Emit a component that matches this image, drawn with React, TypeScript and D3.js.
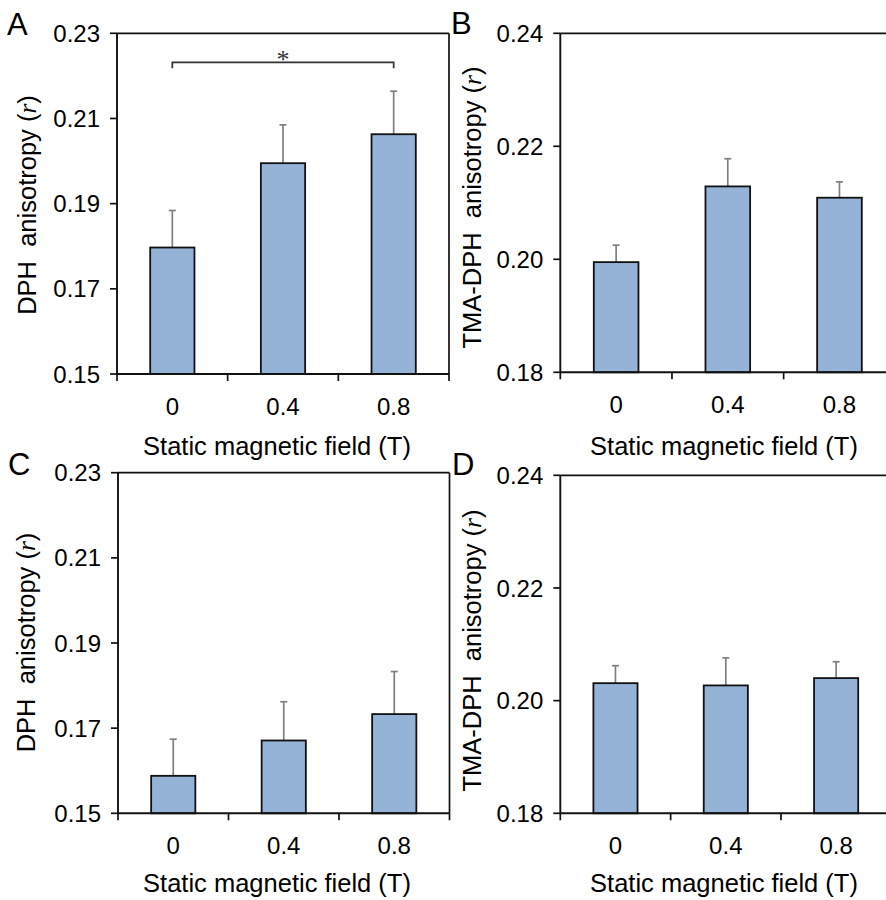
import React from "react";
import * as d3 from "d3";

const categories = ["0", "0.4", "0.8"];

const dphMeansA = [0.1797, 0.1995, 0.2063];
const dphErrA = [0.0087, 0.009, 0.0101];
const tmaMeansB = [0.1995, 0.2129, 0.2109];
const tmaErrB = [0.003, 0.0049, 0.0028];
const dphMeansC = [0.1588, 0.1671, 0.1733];
const dphErrC = [0.0086, 0.0091, 0.01];
const tmaMeansD = [0.2031, 0.2027, 0.204];
const tmaErrD = [0.0031, 0.0049, 0.0029];

const dphTicks = [0.15, 0.17, 0.19, 0.21, 0.23];
const tmaTicks = [0.18, 0.2, 0.22, 0.24];

const xTitle = "Static magnetic field (T)";
const dphTitle = "DPH  anisotropy (";
const tmaTitle = "TMA-DPH  anisotropy (";

const SANS = "'Liberation Sans', Arial, Helvetica, sans-serif";
const SERIF = "'Liberation Serif', 'Times New Roman', serif";

type PanelProps = {
  label: string;
  labelX: number;
  labelY: number;
  left: number;
  top: number;
  bottom: number;
  width: number;
  means: number[];
  errs: number[];
  ticks: number[];
  yTitle: string;
  yTitleX: number;
  yTitleY: number;
  xTitleX: number;
  xTitleY: number;
  showRight: boolean;
  bracket?: { from: number; to: number; y: number };
};

function Panel(p: PanelProps) {
  const right = p.left + p.width;
  const y = d3
    .scaleLinear()
    .domain([p.ticks[0], p.ticks[p.ticks.length - 1]])
    .range([p.bottom, p.top]);
  const x = d3
    .scaleBand<string>()
    .domain(categories)
    .range([p.left, right])
    .paddingInner(0.6)
    .paddingOuter(0.3);
  const step = x.step();
  const boundaries = d3.range(categories.length + 1).map((i) => p.left + i * step);
  const fmt = d3.format(".2f");
  const tickLen = 7;
  const cap = 3.5;
  return (
    <g>
      <text x={p.labelX} y={p.labelY} fontFamily={SANS} fontSize={31} fill="#000">
        {p.label}
      </text>
      {categories.map((c, i) => {
        const x0 = x(c)!;
        const cx = x0 + x.bandwidth() / 2;
        const yTop = y(p.means[i]);
        const yErr = y(p.means[i] + p.errs[i]);
        return (
          <g key={c}>
            <line x1={cx} x2={cx} y1={yTop} y2={yErr} stroke="#7f7f7f" strokeWidth={1.7} />
            <line x1={cx - cap} x2={cx + cap} y1={yErr} y2={yErr} stroke="#7f7f7f" strokeWidth={1.7} />
            <rect
              x={x0}
              y={yTop}
              width={x.bandwidth()}
              height={p.bottom - yTop}
              fill="#95b3d7"
              stroke="#111"
              strokeWidth={1.8}
            />
          </g>
        );
      })}
      <line x1={p.left} x2={right} y1={p.top} y2={p.top} stroke="#111" strokeWidth={1.7} />
      {p.showRight && (
        <line x1={right} x2={right} y1={p.top} y2={p.bottom} stroke="#111" strokeWidth={1.7} />
      )}
      <line x1={p.left} x2={p.left} y1={p.top} y2={p.bottom} stroke="#111" strokeWidth={1.9} />
      <line x1={p.left} x2={right} y1={p.bottom} y2={p.bottom} stroke="#111" strokeWidth={1.9} />
      {p.ticks.map((t) => (
        <g key={t}>
          <line x1={p.left - tickLen} x2={p.left} y1={y(t)} y2={y(t)} stroke="#111" strokeWidth={1.7} />
          <text
            x={p.left - 17}
            y={y(t)}
            dy="0.36em"
            textAnchor="end"
            fontFamily={SANS}
            fontSize={24}
            fill="#000"
          >
            {fmt(t)}
          </text>
        </g>
      ))}
      {boundaries.map((b, i) => (
        <line key={i} x1={b} x2={b} y1={p.bottom} y2={p.bottom + tickLen} stroke="#111" strokeWidth={1.7} />
      ))}
      {categories.map((c) => (
        <text
          key={c}
          x={x(c)! + x.bandwidth() / 2}
          y={p.bottom + 41}
          textAnchor="middle"
          fontFamily={SANS}
          fontSize={24}
          fill="#000"
        >
          {c}
        </text>
      ))}
      <text x={p.xTitleX} y={p.xTitleY} textAnchor="middle" fontFamily={SANS} fontSize={25.5} fill="#000">
        {xTitle}
      </text>
      <text
        transform={`translate(${p.yTitleX},${p.yTitleY}) rotate(-90)`}
        textAnchor="middle"
        fontFamily={SANS}
        fontSize={25.5}
        fill="#000"
        style={{ whiteSpace: "pre" }}
      >
        {p.yTitle}
        <tspan fontFamily={SERIF} fontStyle="italic">
          r
        </tspan>
        )
      </text>
      {p.bracket && (() => {
        const bx1 = x(categories[p.bracket!.from])! + x.bandwidth() / 2;
        const bx2 = x(categories[p.bracket!.to])! + x.bandwidth() / 2;
        const by = p.bracket!.y;
        return (
          <g>
            <path
              d={`M${bx1},${by + 6}V${by}H${bx2}V${by + 6}`}
              fill="none"
              stroke="#333"
              strokeWidth={1.7}
            />
            <text x={(bx1 + bx2) / 2} y={by + 5.5} textAnchor="middle" fontFamily={SERIF} fontSize={26} fill="#333">
              *
            </text>
          </g>
        );
      })()}
    </g>
  );
}

export default function App() {
  return (
    <svg
      width={886}
      height={900}
      style={{ position: "absolute", left: 0, top: 0, display: "block", background: "#fff" }}
    >
      <rect x={0} y={0} width={886} height={900} fill="#fff" />
      <Panel
        label="A"
        labelX={7}
        labelY={35}
        left={117}
        top={33.3}
        bottom={374}
        width={332}
        means={dphMeansA}
        errs={dphErrA}
        ticks={dphTicks}
        yTitle={dphTitle}
        yTitleX={36}
        yTitleY={205}
        xTitleX={277}
        xTitleY={455}
        showRight={true}
        bracket={{ from: 0, to: 2, y: 62.3 }}
      />
      <Panel
        label="B"
        labelX={451}
        labelY={33.5}
        left={560.3}
        top={33.3}
        bottom={372.3}
        width={335}
        means={tmaMeansB}
        errs={tmaErrB}
        ticks={tmaTicks}
        yTitle={tmaTitle}
        yTitleX={481}
        yTitleY={207.5}
        xTitleX={724}
        xTitleY={455}
        showRight={false}
      />
      <Panel
        label="C"
        labelX={8}
        labelY={475}
        left={118}
        top={472.7}
        bottom={813.3}
        width={331.5}
        means={dphMeansC}
        errs={dphErrC}
        ticks={dphTicks}
        yTitle={dphTitle}
        yTitleX={35}
        yTitleY={642.5}
        xTitleX={277}
        xTitleY={892}
        showRight={true}
      />
      <Panel
        label="D"
        labelX={452}
        labelY={475}
        left={560.3}
        top={475.3}
        bottom={813.3}
        width={331}
        means={tmaMeansD}
        errs={tmaErrD}
        ticks={tmaTicks}
        yTitle={tmaTitle}
        yTitleX={481}
        yTitleY={650.5}
        xTitleX={724}
        xTitleY={892}
        showRight={false}
      />
    </svg>
  );
}
